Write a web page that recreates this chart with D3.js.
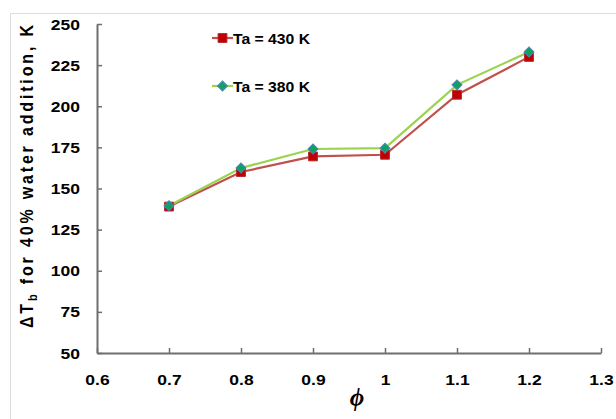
<!DOCTYPE html>
<html>
<head>
<meta charset="utf-8">
<script src="https://cdn.jsdelivr.net/npm/d3@7"></script>
<style>
  html, body { margin: 0; padding: 0; background: #fff; }
  svg { display: block; }
  text { font-family: "Liberation Sans", Arial, sans-serif; font-weight: bold; fill: #000; }
</style>
</head>
<body>
<svg id="chart" width="616" height="419"></svg>
<script>
// Equivalence ratio values on the x axis
const phi = [0.7, 0.8, 0.9, 1.0, 1.1, 1.2];
// Temperature rise for 40% water addition, per ambient temperature
const ta430 = [139, 160, 169.5, 170.5, 207, 230];
const ta380 = [139.5, 162.5, 174, 174.5, 213, 233];
const seriesNames = ["Ta = 430 K", "Ta = 380 K"];

const xTicks = [0.6, 0.7, 0.8, 0.9, 1.0, 1.1, 1.2, 1.3];
const xTickLabels = ["0.6", "0.7", "0.8", "0.9", "1", "1.1", "1.2", "1.3"];
const yTicks = [50, 75, 100, 125, 150, 175, 200, 225, 250];

const svg = d3.select("#chart");

// light frame along the top and left edges
svg.append("line").attr("x1", 10).attr("x2", 616).attr("y1", 13.5).attr("y2", 13.5)
  .attr("stroke", "#dcdcdc").attr("stroke-width", 1);
svg.append("line").attr("x1", 10.5).attr("x2", 10.5).attr("y1", 13).attr("y2", 419)
  .attr("stroke", "#dcdcdc").attr("stroke-width", 1);

const x = d3.scaleLinear().domain([0.6, 1.3]).range([97, 601]);
const y = d3.scaleLinear().domain([50, 250]).range([353, 24]);

const axisColor = "#6e6e6e";
const stretch = 1.25;

// x axis
const gx = svg.append("g").attr("transform", `translate(0,${y(50)})`)
  .call(d3.axisBottom(x).tickValues(xTicks)
    .tickFormat((d, i) => xTickLabels[i])
    .tickSizeInner(-5).tickSizeOuter(0));
gx.select(".domain").attr("stroke", axisColor).attr("stroke-width", 2);
gx.selectAll(".tick line").attr("stroke", axisColor).attr("stroke-width", 1.5);
gx.selectAll(".tick text")
  .attr("y", 32).attr("dy", 0)
  .attr("transform", `scale(${stretch},1)`)
  .style("font-size", "14px").style("font-family", "Liberation Sans, Arial, sans-serif")
  .style("font-weight", "bold").attr("fill", "#000");

// y axis
const gy = svg.append("g").attr("transform", `translate(${x(0.6)},0)`)
  .call(d3.axisLeft(y).tickValues(yTicks).tickSizeInner(-5).tickSizeOuter(0));
gy.select(".domain").attr("stroke", axisColor).attr("stroke-width", 2);
gy.selectAll(".tick line").attr("stroke", axisColor).attr("stroke-width", 1.5);
gy.selectAll(".tick text")
  .attr("x", -17 / stretch).attr("dy", "0.36em")
  .attr("transform", `scale(${stretch},1)`)
  .style("font-size", "14px").style("font-family", "Liberation Sans, Arial, sans-serif")
  .style("font-weight", "bold").attr("fill", "#000");

// axis titles
const yTitle = svg.append("text")
  .attr("transform", "translate(33,176.5) scale(1.2,1) rotate(-90)")
  .attr("text-anchor", "middle")
  .attr("textLength", 303).attr("lengthAdjust", "spacing")
  .style("font-size", "16px");
yTitle.append("tspan").text("\u0394T");
yTitle.append("tspan").attr("baseline-shift", "-4").style("font-size", "11px").text("b");
yTitle.append("tspan").text(" for 40% water addition, K");

svg.append("text")
  .attr("x", 357).attr("y", 406)
  .attr("text-anchor", "middle")
  .style("font-family", "Liberation Serif, Times New Roman, serif")
  .style("font-style", "italic")
  .style("font-weight", "bold")
  .style("font-size", "25px")
  .text("\u03D5");

// series
const series = [
  { name: seriesNames[0], values: ta430, line: "#c0504d", fill: "#c00000", edge: "#b52a2a", shape: "square" },
  { name: seriesNames[1], values: ta380, line: "#9bd34f", fill: "#10a060", edge: "#4f81bd", shape: "diamond" }
];

const line = d3.line().x(d => x(d[0])).y(d => y(d[1]));
const sq = d3.symbol().type(d3.symbolSquare).size(78);
const dm = d3.symbol().type(d3.symbolSquare).size(50);

function marker(g, s, cx, cy) {
  if (s.shape === "square") {
    g.append("path").attr("d", sq()).attr("transform", `translate(${cx},${cy})`)
      .attr("fill", s.fill).attr("stroke", s.edge).attr("stroke-width", 1);
  } else {
    g.append("path").attr("d", dm())
      .attr("transform", `translate(${cx},${cy}) rotate(45)`)
      .attr("fill", s.fill).attr("stroke", s.edge).attr("stroke-width", 1);
  }
}

series.forEach(s => {
  const pts = phi.map((p, i) => [p, s.values[i]]);
  svg.append("path").datum(pts).attr("d", line)
    .attr("fill", "none").attr("stroke", s.line).attr("stroke-width", 2.2);
});
series.forEach(s => {
  const g = svg.append("g");
  phi.forEach((p, i) => marker(g, s, x(p), y(s.values[i])));
});

// legend
const legendY = [38, 86];
series.forEach((s, i) => {
  const g = svg.append("g");
  g.append("line").attr("x1", 212).attr("x2", 233).attr("y1", legendY[i]).attr("y2", legendY[i])
    .attr("stroke", s.line).attr("stroke-width", 2.2);
  marker(g, s, 222.5, legendY[i]);
  g.append("text")
    .attr("transform", `translate(233,${legendY[i] + 5.5}) scale(1.05,1)`)
    .style("font-size", "15px")
    .text(s.name);
});
</script>
</body>
</html>
